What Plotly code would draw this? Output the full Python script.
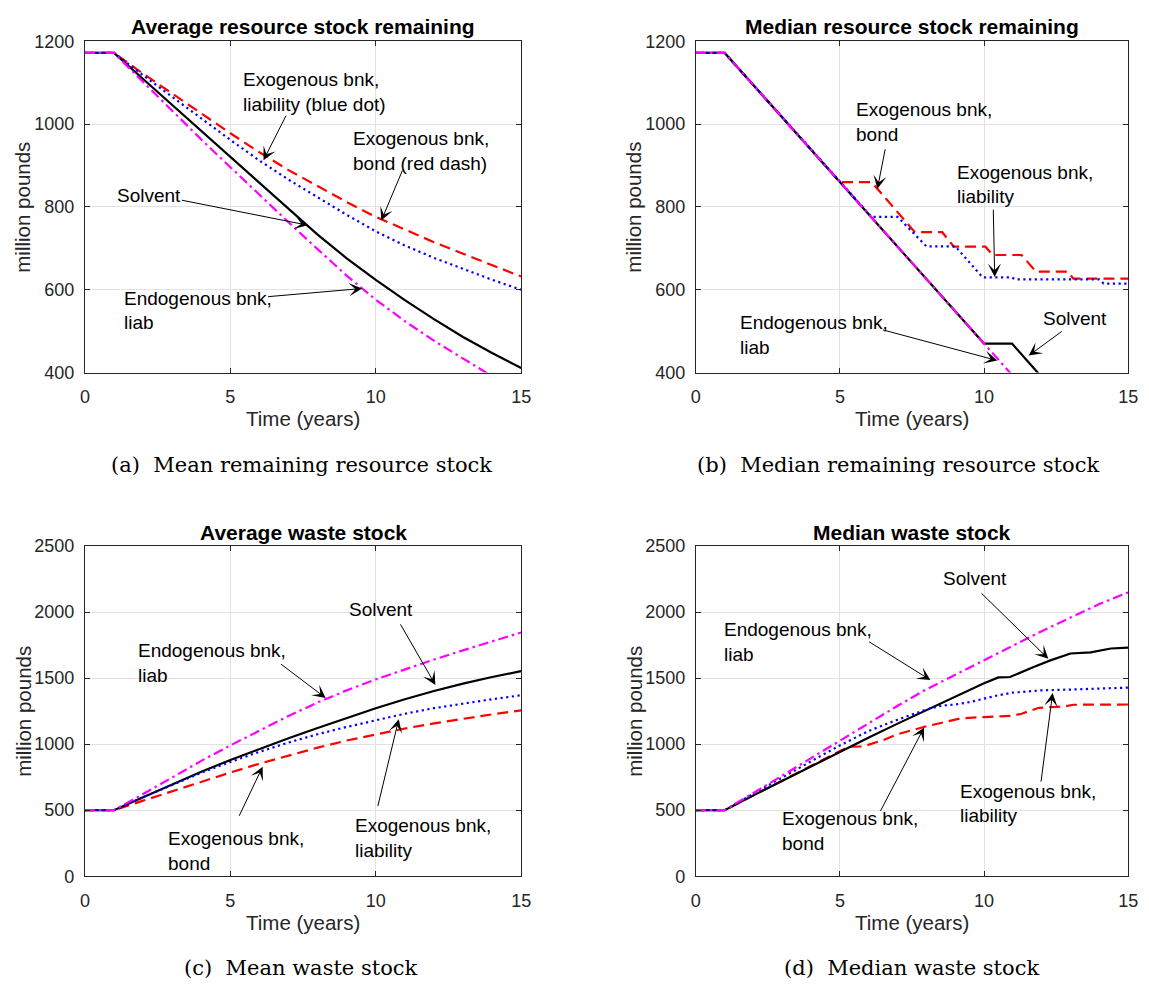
import plotly.graph_objects as go

# ---------------- data ----------------
years = [0, 1, 2, 3, 4, 5, 6, 7, 8, 9, 10, 11, 12, 13, 14, 15]

# (a) mean remaining resource stock
a_solvent = [1172, 1172, 1109, 1046, 983, 920, 857, 794, 733, 676, 624, 575, 529, 486, 447, 411]
a_bond = [1172, 1172, 1122, 1073, 1026, 978, 932, 889, 850, 812, 776, 745, 715, 687, 659, 632]
a_liab = [1172, 1172, 1118, 1065, 1014, 962, 912, 866, 823, 781, 741, 707, 677, 650, 624, 600]
a_endo = [1172, 1172, 1102, 1032, 963, 896, 829, 763, 698, 634, 576, 524, 477, 433, 391, 352]

# (b) median remaining resource stock
b_endo_t = [0, 1, 2, 3, 4, 5, 6, 7, 8, 9, 10, 11]
b_endo = [1172, 1172, 1094, 1016, 938, 860, 782, 704, 626, 548, 470, 392]
b_solvent_t = [0, 1, 10, 10.97, 11.86, 12]
b_solvent = [1172, 1172, 470, 470, 400, 389]
b_bond_t = [0, 1, 5, 6.1, 7.6, 8.55, 8.95, 10.05, 10.3, 11.3, 11.8, 12.9, 13.1, 15]
b_bond = [1172, 1172, 860, 860, 739, 739, 704, 704, 684, 684, 644, 644, 627, 627]
b_liab_t = [0, 1, 6.1, 7.0, 8.0, 9.0, 9.95, 10.95, 11.1, 14.0, 14.15, 15]
b_liab = [1172, 1172, 776, 776, 705, 705, 630, 630, 625, 625, 615, 615]

# (c) mean waste stock
c_solvent = [500, 500, 598, 695, 790, 880, 965, 1045, 1122, 1198, 1272, 1340, 1402, 1458, 1508, 1552]
c_bond = [500, 500, 572, 644, 716, 785, 852, 915, 973, 1027, 1075, 1118, 1157, 1192, 1225, 1255]
c_liab = [500, 500, 598, 693, 783, 865, 942, 1012, 1075, 1130, 1182, 1230, 1272, 1308, 1340, 1370]
c_endo = [500, 500, 622, 750, 873, 990, 1103, 1213, 1315, 1407, 1490, 1567, 1640, 1710, 1778, 1845]

# (d) median waste stock
d_solvent_t = [0, 1, 2, 3, 4, 5, 6, 7, 8, 9, 10, 10.5, 10.9, 11.7, 12.3, 13, 13.7, 14.4, 15]
d_solvent = [500, 500, 612, 722, 833, 945, 1050, 1155, 1258, 1362, 1460, 1505, 1508, 1582, 1634, 1686, 1694, 1724, 1731]
d_endo = [500, 500, 630, 762, 895, 1030, 1160, 1290, 1415, 1528, 1635, 1745, 1855, 1958, 2060, 2148]
d_liab_t = [0, 1, 2, 3, 4, 5, 6, 7, 8, 8.5, 9, 9.5, 10, 10.5, 11, 11.5, 12, 13, 14, 15]
d_liab = [500, 500, 625, 750, 870, 990, 1100, 1185, 1262, 1290, 1300, 1318, 1345, 1370, 1390, 1400, 1407, 1413, 1420, 1428]
d_bond_t = [0, 1, 2, 3, 4, 5, 5.3, 5.8, 6.5, 7, 8, 8.6, 9.2, 10, 11, 11.3, 11.9, 12.8, 13.1, 15]
d_bond = [500, 500, 612, 722, 833, 945, 980, 982, 1030, 1075, 1135, 1165, 1195, 1205, 1215, 1230, 1275, 1285, 1298, 1300]

titles = ["Average resource stock remaining", "Median resource stock remaining",
          "Average waste stock", "Median waste stock"]
captions = ["(a)  Mean remaining resource stock", "(b)  Median remaining resource stock",
            "(c)  Mean waste stock", "(d)  Median waste stock"]
x_ticks = [0, 5, 10, 15]
res_ticks = [400, 600, 800, 1000, 1200]
waste_ticks = [0, 500, 1000, 1500, 2000, 2500]

# ---------------- styling ----------------
W, H = 1149, 993
SANS = "Liberation Sans"
INK = "#262626"
STY = {
    "bond": dict(color="#ff0000", width=2.2, dash="11px,6px"),
    "solvent": dict(color="#000000", width=2.2),
    "liab": dict(color="#0000ff", width=2.2, dash="2.2px,3.5px"),
    "endo": dict(color="#ff00ff", width=2.2, dash="10px,4px,2.5px,4px"),
}

def px(x):
    return x / W

def py(y):
    return 1 - y / H

# panel pixel boxes: (left, right, top, bottom)
boxes = [(81, 523, 32, 370), (700, 1138, 32, 370), (81, 523, 547, 884), (700, 1138, 547, 884)]
title_y = [17, 17, 533, 533]
xtitle_y = [417, 417, 931, 931]

fig = go.Figure()

series = [
    [("bond", years, a_bond), ("solvent", years, a_solvent), ("liab", years, a_liab), ("endo", years, a_endo)],
    [("bond", b_bond_t, b_bond), ("solvent", b_solvent_t, b_solvent), ("liab", b_liab_t, b_liab), ("endo", b_endo_t, b_endo)],
    [("bond", years, c_bond), ("solvent", years, c_solvent), ("liab", years, c_liab), ("endo", years, c_endo)],
    [("bond", d_bond_t, d_bond), ("solvent", d_solvent_t, d_solvent), ("liab", d_liab_t, d_liab), ("endo", years, d_endo)],
]

for i, lst in enumerate(series):
    ax = "" if i == 0 else str(i + 1)
    for key, t, v in lst:
        fig.add_trace(go.Scatter(x=t, y=v, mode="lines", line=STY[key],
                                 xaxis="x" + ax, yaxis="y" + ax, showlegend=False,
                                 hoverinfo="skip"))

layout = dict(width=W, height=H, margin=dict(l=0, r=0, t=0, b=0),
              paper_bgcolor="white", plot_bgcolor="white", showlegend=False)

common = dict(showline=True, linecolor=INK, linewidth=1, mirror="ticks", ticks="inside",
              ticklen=5, tickcolor=INK, tickwidth=1, showgrid=True, gridcolor="#e2e2e2",
              gridwidth=1, zeroline=False,
              tickfont=dict(family=SANS, size=18, color=INK))

annotations = []
for i, (l, r, t, b) in enumerate(boxes):
    n = "" if i == 0 else str(i + 1)
    yr = [400, 1200] if i < 2 else [0, 2500]
    yt = res_ticks if i < 2 else waste_ticks
    layout["xaxis" + n] = dict(common, domain=[px(l), px(r)], range=[0, 15], tickvals=x_ticks,
                               anchor="y" + n, ticklabelstandoff=8)
    layout["yaxis" + n] = dict(common, domain=[py(b), py(t)], range=yr, tickvals=yt,
                               anchor="x" + n, ticklabelstandoff=6)
    cx = (l + r) / 2
    annotations.append(dict(text="<b>" + titles[i] + "</b>", xref="paper", yref="paper",
                            x=px(cx), y=py(title_y[i]), xanchor="center", yanchor="middle",
                            showarrow=False, font=dict(family=SANS, size=21, color="#000000")))
    annotations.append(dict(text="Time (years)", xref="paper", yref="paper",
                            x=px(cx), y=py(xtitle_y[i]), xanchor="center", yanchor="middle",
                            showarrow=False, font=dict(family=SANS, size=20.5, color=INK)))
    annotations.append(dict(text="million pounds", xref="paper", yref="paper",
                            x=px(l - 63), y=py((t + b) / 2), xanchor="center", yanchor="middle",
                            textangle=-90, showarrow=False, font=dict(family=SANS, size=20.5, color=INK)))

cap_pos = [(300, 464), (905, 464), (300, 978), (918, 978)]
for cap, (cx, cy) in zip(captions, cap_pos):
    annotations.append(dict(text=cap, xref="paper", yref="paper", x=px(cx), y=py(cy),
                            xanchor="center", yanchor="middle", showarrow=False,
                            font=dict(family="DejaVu Serif", size=21, color="#000000")))

# labels: (panel, text, x, y, tail_x, tail_y, head_x, head_y)
labels = [
    (0, "Exogenous bnk,<br>liability (blue dot)", 5.37, 1078, 6.94, 1024, 6.14, 913),
    (0, "Exogenous bnk,<br>bond (red dash)", 9.14, 936, 10.94, 892, 10.19, 767),
    (0, "Solvent", 1.03, 827, 3.28, 817, 7.66, 756),
    (0, "Endogenous bnk,<br>liab", 1.28, 550, 6.25, 583, 9.53, 603),
    (1, "Exogenous bnk,<br>bond", 5.49, 1006, 6.58, 943, 6.30, 844),
    (1, "Exogenous bnk,<br>liability", 8.99, 854, 10.32, 797, 10.37, 631),
    (1, "Solvent", 11.97, 530, 12.75, 502, 11.55, 441),
    (1, "Endogenous bnk,<br>liab", 1.46, 490, 6.44, 504, 10.46, 429),
    (2, "Solvent", 9.0, 2017, 10.82, 1918, 12.05, 1448),
    (2, "Endogenous bnk,<br>liab", 1.76, 1614, 6.69, 1614, 8.28, 1349),
    (2, "Exogenous bnk,<br>bond", 2.77, 188, 5.28, 446, 6.11, 829),
    (2, "Exogenous bnk,<br>liability", 9.22, 287, 10.06, 520, 10.79, 1188),
    (3, "Solvent", 8.52, 2252, 9.86, 2153, 12.23, 1646),
    (3, "Endogenous bnk,<br>liab", 0.91, 1772, 5.96, 1782, 8.14, 1485),
    (3, "Exogenous bnk,<br>bond", 2.92, 342, 6.38, 483, 7.92, 1126),
    (3, "Exogenous bnk,<br>liability", 9.08, 550, 11.97, 705, 12.38, 1386),
]
for p, text, x, y, tx, ty, hx, hy in labels:
    n = "" if p == 0 else str(p + 1)
    lines = text.split("<br>")
    k = len(lines)
    for j, line in enumerate(lines):
        shift = ((k - 1) / 2 - j) * 24.8
        annotations.append(dict(text=line, xref="x" + n, yref="y" + n, x=x, y=y, yshift=shift,
                                xanchor="left", yanchor="middle", showarrow=False,
                                font=dict(family=SANS, size=19, color="#000000")))
    annotations.append(dict(text="", xref="x" + n, yref="y" + n, x=hx, y=hy,
                            axref="x" + n, ayref="y" + n, ax=tx, ay=ty, showarrow=True,
                            arrowhead=3, arrowsize=2.2, arrowwidth=1, arrowcolor="#000000",
                            standoff=0, startstandoff=0))

layout["annotations"] = annotations
fig.update_layout(**layout)

pin = ("var d=document.getElementById('{plot_id}');"
       "document.documentElement.style.margin='0';document.body.style.margin='0';"
       "document.documentElement.style.overflow='hidden';"
       "d.style.position='fixed';d.style.left='0px';d.style.top='0px';")
fig.write_html("out.html", config={"displayModeBar": False}, post_script=pin)
